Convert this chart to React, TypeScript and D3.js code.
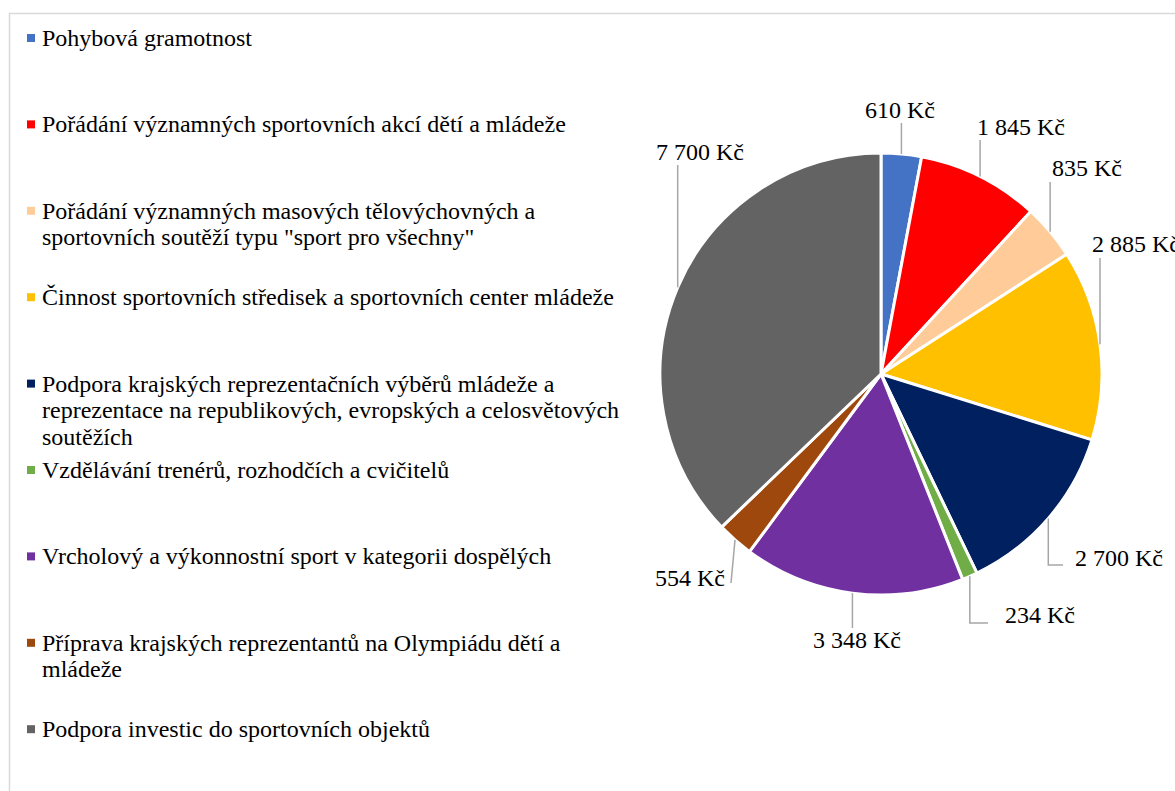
import React from "react";
import * as d3 from "d3";

const categories: string[][] = [
  ["Pohybová gramotnost"],
  ["Pořádání významných sportovních akcí dětí a mládeže"],
  ["Pořádání významných masových tělovýchovných a", "sportovních soutěží typu \"sport pro všechny\""],
  ["Činnost sportovních středisek a sportovních center mládeže"],
  ["Podpora krajských reprezentačních výběrů mládeže a", "reprezentace na republikových, evropských a celosvětových", "soutěžích"],
  ["Vzdělávání trenérů, rozhodčích a cvičitelů"],
  ["Vrcholový a výkonnostní sport v kategorii dospělých"],
  ["Příprava krajských reprezentantů na Olympiádu dětí a", "mládeže"],
  ["Podpora investic do sportovních objektů"],
];
const values: number[] = [610, 1845, 835, 2885, 2700, 234, 3348, 554, 7700];
const valueLabels: string[] = ["610 Kč", "1 845 Kč", "835 Kč", "2 885 Kč", "2 700 Kč", "234 Kč", "3 348 Kč", "554 Kč", "7 700 Kč"];
const colors: string[] = ["#4472C4", "#FF0000", "#FFCC99", "#FFC000", "#002060", "#70AD47", "#7030A0", "#9E480E", "#636363"];

// label layout: text anchor point, leader end point, text anchor
const labelLayout: { tx: number; ty: number; ex: number; ey: number; anchor: string }[] = [
  { tx: 900, ty: 118, ex: 902, ey: 123, anchor: "middle" },
  { tx: 1021, ty: 135, ex: 982, ey: 140, anchor: "middle" },
  { tx: 1087, ty: 176, ex: 1052, ey: 182, anchor: "middle" },
  { tx: 1136, ty: 252, ex: 1103, ey: 258, anchor: "middle" },
  { tx: 1075, ty: 566, ex: 1063, ey: 565, anchor: "start" },
  { tx: 1005, ty: 623, ex: 988, ey: 623, anchor: "start" },
  { tx: 857, ty: 648, ex: 852, ey: 628, anchor: "middle" },
  { tx: 725, ty: 586, ex: 731, ey: 583, anchor: "end" },
  { tx: 700, ty: 160, ex: 677, ey: 165, anchor: "middle" },
];

const W = 1175;
const H = 791;
const cx = 881;
const cy = 374;
const R = 221;

export default function App() {
  const pie = d3.pie<number>().sort(null).value((d) => d)(values);
  const arc = d3.arc<d3.PieArcDatum<number>>().innerRadius(0).outerRadius(R);
  const font = "'Times New Roman', 'Liberation Serif', 'DejaVu Serif', serif";
  const fs = 24;

  return (
    <svg width={W} height={H} style={{ position: "absolute", left: 0, top: 0, background: "#fff" }}>
      <rect x={9.5} y={13.5} width={W + 20} height={H + 20} fill="#fff" stroke="#D9D9D9" strokeWidth={1.5} />
      {/* legend */}
      {categories.map((lines, i) => {
        const base = 46 + i * 86.4;
        return (
          <g key={i}>
            <rect x={27} y={base - 12} width={8} height={8} fill={colors[i]} />
            {lines.map((ln, j) => (
              <text key={j} x={42} y={base + j * 26.5} fontFamily={font} fontSize={fs} fill="#000">
                {ln}
              </text>
            ))}
          </g>
        );
      })}
      {/* pie */}
      <g transform={`translate(${cx},${cy})`}>
        {pie.map((p, i) => (
          <path key={i} d={arc(p) || ""} fill={colors[i]} stroke="#fff" strokeWidth={3} strokeLinejoin="round" />
        ))}
      </g>
      {/* leaders & labels */}
      {pie.map((p, i) => {
        const mid = (p.startAngle + p.endAngle) / 2;
        const px = cx + R * Math.sin(mid);
        const py = cy - R * Math.cos(mid);
        const L = labelLayout[i];
        let pts: [number, number][];
        if (L.anchor === "start") {
          pts = [[px, py], [px, L.ey], [L.ex, L.ey]];
        } else if (L.anchor === "end") {
          pts = [[px, py], [L.ex, L.ey]];
        } else {
          pts = [[px, py], [px, L.ey]];
        }
        const line = d3.line()(pts) || "";
        return (
          <g key={i}>
            <path d={line} fill="none" stroke="#A6A6A6" strokeWidth={1.5} />
            <text x={L.tx} y={L.ty} textAnchor={L.anchor} fontFamily={font} fontSize={fs} fill="#000">
              {valueLabels[i]}
            </text>
          </g>
        );
      })}
    </svg>
  );
}
